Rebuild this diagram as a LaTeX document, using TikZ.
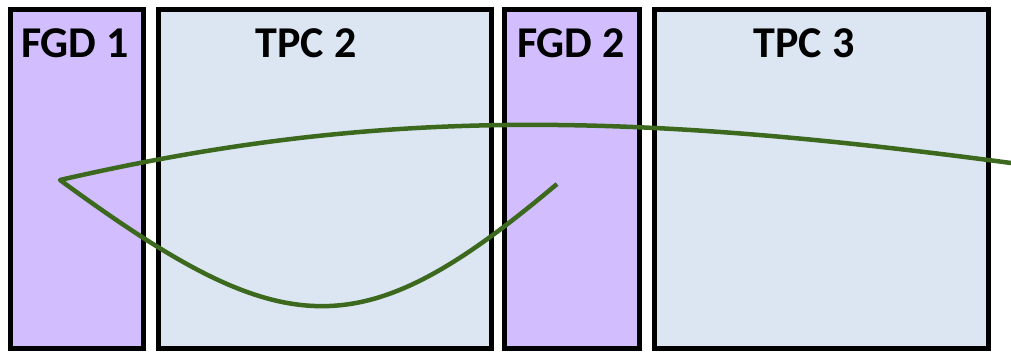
\documentclass[tikz,border=0pt]{standalone}
\usepackage{fontspec}
\setmainfont{Carlito}
\definecolor{fgdfill}{RGB}{210,190,255}
\definecolor{tpcfill}{RGB}{220,230,242}
\definecolor{track}{RGB}{60,105,30}
\tikzset{
  det/.style={draw=black, line width=5pt, rectangle, inner sep=0pt, minimum height=339pt},
  fgdbox/.style={det, fill=fgdfill},
  tpcbox/.style={det, fill=tpcfill},
  lbl/.style={anchor=base, inner sep=0pt, font=\fontsize{44}{44}\selectfont\bfseries},
  trk/.style={draw=track, line width=4.5pt, line join=round, line cap=butt}
}
\begin{document}
\begin{tikzpicture}[x=1pt,y=-1pt]
\useasboundingbox (0,0) rectangle (1011,351);
\node[fgdbox, minimum width=133pt] (fgd1) at (77,179) {};
\node[tpcbox, minimum width=333pt] (tpc2) at (325,179) {};
\node[fgdbox, minimum width=135pt] (fgd2) at (572,179) {};
\node[tpcbox, minimum width=334pt] (tpc3) at (821.5,179) {};
\node[lbl] (l1) at (75,57) {FGD 1};
\node[lbl] (l2) at (306,57) {TPC 2};
\node[lbl] (l3) at (571,57) {FGD 2};
\node[lbl] (l4) at (804,57) {TPC 3};
\coordinate (start) at (557,184);
\coordinate (vertex) at (60,180);
\coordinate (exit) at (1011,163);
\draw[trk] (start) .. controls (360,350) and (285,345) .. (vertex)
  .. controls (373,108) and (621,111) .. (exit);
\end{tikzpicture}
\end{document}
